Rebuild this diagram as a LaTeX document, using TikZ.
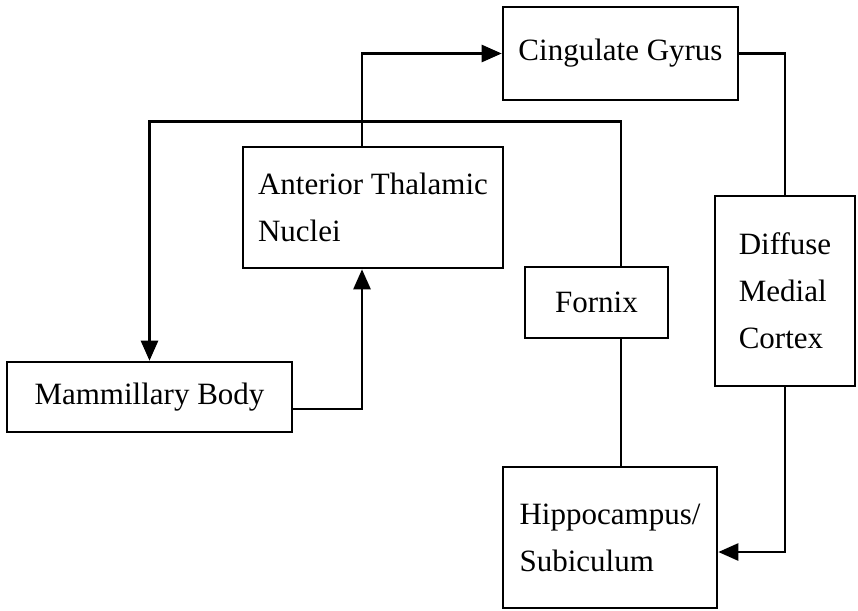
\documentclass[tikz,border=0pt]{standalone}
\usepackage{fontspec}
\setmainfont{Liberation Serif}
\usetikzlibrary{arrows.meta}

\begin{document}
\begin{tikzpicture}[x=1pt,y=-1pt,
		boxNode/.style={draw,rectangle,line width=2.6pt,align=left,inner sep=0pt,
			font=\fontsize{31}{47}\selectfont},
		plainLine/.style={line width=2.6pt},
		flowArrow/.style={plainLine,-{Triangle[length=20pt,width=17pt]}}]
		\useasboundingbox (0,0) rectangle (858,610);
		
		% boxes
		\node[boxNode,minimum width=235,minimum height=93] (cingulate) at (620.5,53.5) {Cingulate Gyrus};
		\node[boxNode,minimum width=260,minimum height=121] (thalamic) at (373,207.5) {Anterior Thalamic\\Nuclei};
		\node[boxNode,minimum width=143,minimum height=71] (fornix) at (596.5,302.5) {Fornix};
		\node[boxNode,minimum width=140,minimum height=190] (diffuse) at (785,291) {Diffuse\\Medial\\Cortex};
		\node[boxNode,minimum width=285,minimum height=70] (mammillary) at (149.5,397) {Mammillary Body};
		\node[boxNode,minimum width=214,minimum height=141] (hippo) at (610,537.5) {Hippocampus/\\Subiculum};
		
		% circuit
		\draw[flowArrow] ([xshift=-11pt]thalamic.north) |- (cingulate.west);
		\draw[plainLine] (cingulate.east) -| (diffuse.north);
		\draw[flowArrow] (diffuse.south) |- ([yshift=-14.5pt]hippo.east);
		\draw[plainLine] ([xshift=11pt]hippo.north) -- ([xshift=24.5pt]fornix.south);
		\draw[flowArrow] ([xshift=24.5pt]fornix.north) -- ++(0,-144) -| (mammillary.north);
		\draw[flowArrow] ([yshift=-12pt]mammillary.east) -| ([xshift=-11pt]thalamic.south);
	\end{tikzpicture}
\end{document}
